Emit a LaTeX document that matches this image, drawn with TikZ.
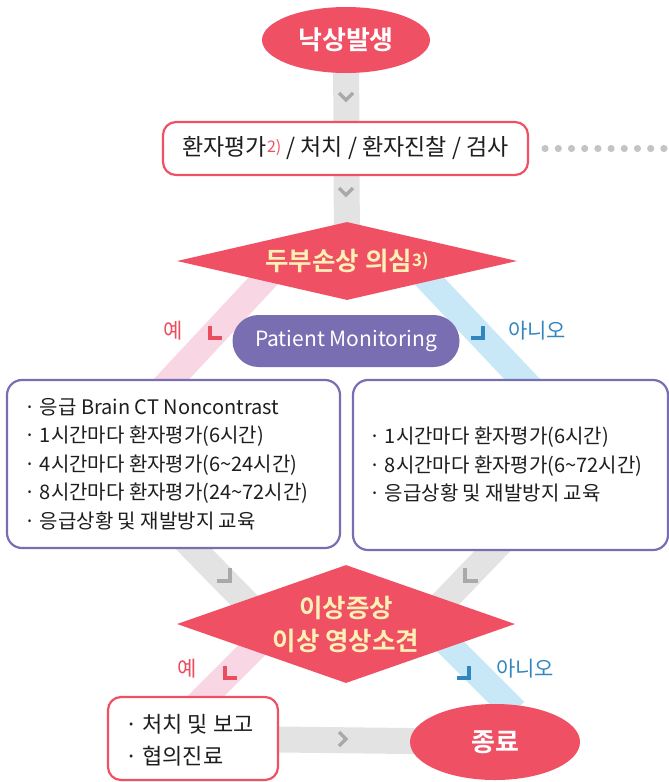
\documentclass[tikz,border=0pt]{standalone}
\usepackage{fontspec}
\setmainfont{Noto Sans CJK KR}[BoldFont={Noto Sans CJK KR Bold}]
\usetikzlibrary{shapes.geometric,calc}
\pgfdeclarelayer{bg}
\pgfsetlayers{bg,main}
\definecolor{cred}{HTML}{EF5064}
\definecolor{cpurple}{HTML}{7A6EB3}
\definecolor{ccream}{HTML}{FFF1B5}
\definecolor{cpink}{HTML}{F9D6E4}
\definecolor{cblueband}{HTML}{C8E8F7}
\definecolor{cgrayband}{HTML}{E3E3E3}
\definecolor{cchev}{HTML}{A9A9A9}
\definecolor{clblred}{HTML}{EB4C5E}
\definecolor{clblblue}{HTML}{3286C0}
\definecolor{cdot}{HTML}{C4C4C4}
\definecolor{ctext}{HTML}{1E1E1E}
\begin{document}
\begin{tikzpicture}[x=1pt,y=-1pt,
  band/.style={line width=26pt, line cap=butt},
  mk/.style={line width=3.4pt, line cap=butt, line join=miter},
  chev/.style={line width=3.4pt, cchev, line cap=butt, line join=miter},
  oval/.style={ellipse, fill=cred, text=white, inner sep=0pt, font=\fontsize{26}{30}\selectfont\bfseries},
  redbox/.style={rounded corners=13pt, draw=cred, line width=2.2pt, fill=white, inner sep=0pt},
  purplebox/.style={rounded corners=15pt, draw=cpurple, line width=2.2pt, fill=white, inner sep=0pt},
  dia/.style={diamond, fill=cred, text=ccream, inner sep=0pt, align=center, font=\fontsize{25.5}{33}\selectfont\bfseries},
  lines/.style={align=left, inner sep=0pt, text=ctext, font=\fontsize{20}{28.5}\selectfont},
  lblred/.style={text=clblred, inner sep=0pt, font=\fontsize{21}{24}\selectfont},
  lblblue/.style={text=clblblue, inner sep=0pt, font=\fontsize{21}{24}\selectfont}
]
\useasboundingbox (0,0) rectangle (669,782);

% ---- band end coordinates
\coordinate (pinkA) at (292,250);
\coordinate (pinkB) at (152,400);
\coordinate (blueA) at (400,250);
\coordinate (blueB) at (542,400);
\coordinate (glA) at (185,540);
\coordinate (glB) at (283,640);
\coordinate (grA) at (503,540);
\coordinate (grB) at (407,640);
\coordinate (pink2A) at (262,640);
\coordinate (pink2B) at (184,718);
\coordinate (blue2A) at (437,633);
\coordinate (blue2B) at (515,711);

% ---- nodes
\node[oval, minimum width=168pt, minimum height=66pt] (start) at (346,40) {낙상발생};
\node[redbox, minimum width=365pt, minimum height=53pt, font=\fontsize{23}{26}\selectfont, text=ctext] (assess) at (345.5,148.5)
  {환자평가{\color{cred}\fontsize{16}{16}\selectfont\raisebox{3pt}{2)}} / 처치 / 환자진찰 / 검사};
\node[dia, aspect=4.36, minimum width=340pt, minimum height=78pt] (d1) at (347,261)
  {두부손상 의심{\fontsize{17}{17}\selectfont\raisebox{4pt}{3)}}};
\node[rounded corners=26pt, fill=cpurple, text=white, minimum width=227pt, minimum height=52pt, inner sep=0pt,
  font=\fontsize{21}{24}\selectfont] (pm) at (346,341) {Patient Monitoring};
\node[lblred] (yes1) at (173,331) {예};
\node[lblblue] (no1) at (537,331) {아니오};

\node[purplebox, minimum width=333pt, minimum height=168pt] (lbox) at (173.5,464) {};
\node[lines, anchor=north west] (ltext) at (24,398) {%
· 응급 Brain CT Noncontrast\\
· 1시간마다 환자평가(6시간)\\
· 4시간마다 환자평가(6\textasciitilde24시간)\\
· 8시간마다 환자평가(24\textasciitilde72시간)\\
· 응급상황 및 재발방지 교육};
\node[purplebox, minimum width=315pt, minimum height=170pt] (rbox) at (510.5,465) {};
\node[lines, anchor=north west] (rtext) at (369,427) {%
· 1시간마다 환자평가(6시간)\\
· 8시간마다 환자평가(6\textasciitilde72시간)\\
· 응급상황 및 재발방지 교육};

\node[dia, aspect=2.86, minimum width=338pt, minimum height=118pt] (d2) at (346,624) {이상증상\\이상 영상소견};
\node[lblred] (yes2) at (187,669) {예};
\node[lblblue] (no2) at (525,669) {아니오};
\node[redbox, minimum width=170pt, minimum height=83pt] (act) at (193,738.5) {};
\node[lines, anchor=north west, font=\fontsize{22}{32}\selectfont] (acttext) at (125,714) {%
· 처치 및 보고\\
· 협의진료};
\node[oval, minimum width=170pt, minimum height=76pt] (end) at (495,742) {종료};

% ---- bands (behind)
\begin{pgfonlayer}{bg}
  \draw[band, cgrayband] (start.center) -- (d1.center);
  \draw[band, cpink] (pinkA) -- (pinkB);
  \draw[band, cblueband] (blueA) -- (blueB);
  \draw[band, cgrayband] (glA) -- (glB);
  \draw[band, cgrayband] (grA) -- (grB);
  \draw[band, cpink] (pink2A) -- (pink2B);
  \draw[band, cblueband] (blue2A) -- (blue2B);
  \draw[band, cgrayband] (act.center) -- (end.center);
\end{pgfonlayer}

% ---- dotted line to the right
\foreach \i in {0,...,9}
  \fill[cdot] ($(assess.east)+(16+13.2*\i,0)$) circle (3.6pt);

% ---- chevrons and direction markers
\draw[chev] (339,93) -- (346,100) -- (353,93);
\draw[chev] (339,188) -- (346,195) -- (353,188);
\draw[chev] (339,732) -- (346,739) -- (339,746);
\draw[mk, clblred] (210,326) -- (210,338) -- (222,338);
\draw[mk, clblblue] (471,338) -- (483,338) -- (483,326);
\draw[chev] (230,568) -- (230,581) -- (217,581);
\draw[chev] (465,568) -- (465,581) -- (478,581);
\draw[mk, clblred] (225,666) -- (225,678) -- (237,678);
\draw[mk, clblblue] (457,678) -- (469,678) -- (469,666);
\end{tikzpicture}
\end{document}
